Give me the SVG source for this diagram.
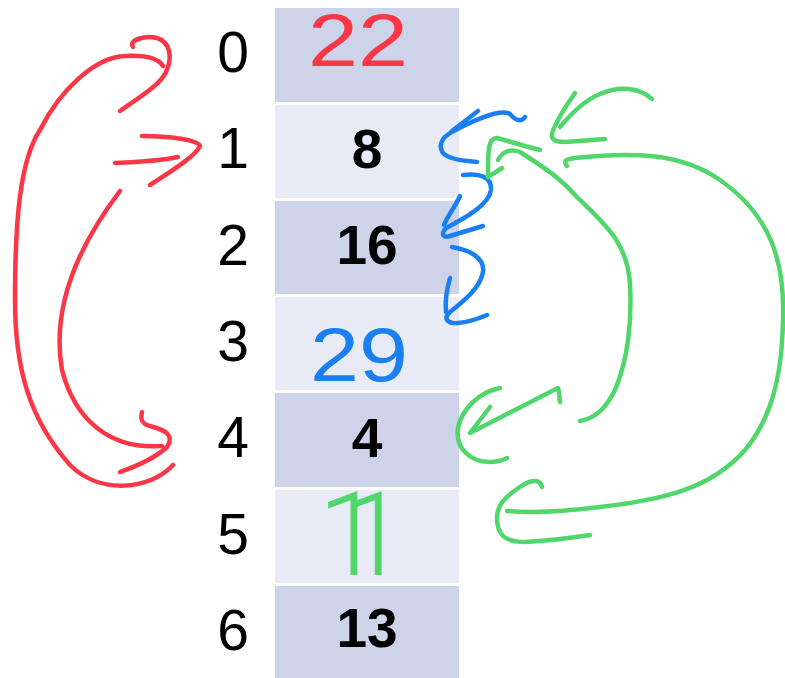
<svg xmlns="http://www.w3.org/2000/svg" width="785" height="678" viewBox="0 0 785 678">
<style>
.dark{fill:#cdd3e8}
.light{fill:#e8ebf5}
.idx{font-family:"Liberation Sans",Arial,sans-serif;font-size:57px;fill:#000;text-anchor:middle}
.val{font-family:"Liberation Sans",Arial,sans-serif;font-size:55px;font-weight:bold;fill:#000;text-anchor:middle}
.hand{font-family:"Liberation Sans",Arial,sans-serif;text-anchor:start}
.ink{fill:none;stroke-width:4.5;stroke-linecap:round;stroke-linejoin:round}
.red{stroke:#fb3647}
.blue{stroke:#1a7ff0}
.green{stroke:#50d66a}
</style>
<rect width="785" height="678" fill="#fff"/>
<g id="slot0"><rect class="dark" x="275" y="8" width="184" height="94"/><text class="idx" x="233" y="72">0</text><text class="hand" x="308" y="66" font-size="74" fill="#fb3647" textLength="100" lengthAdjust="spacingAndGlyphs">22</text></g>
<g id="slot1"><rect class="light" x="275" y="105" width="184" height="93"/><text class="idx" x="233" y="168">1</text><text class="val" x="367" y="168">8</text></g>
<g id="slot2"><rect class="dark" x="275" y="201" width="184" height="93"/><text class="idx" x="233" y="265">2</text><text class="val" x="367" y="264">16</text></g>
<g id="slot3"><rect class="light" x="275" y="297" width="184" height="93"/><text class="idx" x="233" y="361">3</text><text class="hand" x="310" y="381" font-size="76" fill="#1a7ff0" textLength="98" lengthAdjust="spacingAndGlyphs">29</text></g>
<g id="slot4"><rect class="dark" x="275" y="393" width="184" height="94"/><text class="idx" x="233" y="457">4</text><text class="val" x="367" y="457">4</text></g>
<g id="slot5"><rect class="light" x="275" y="490" width="184" height="93"/><text class="idx" x="233" y="554">5</text><text x="318" y="575" font-family="Roboto,'Noto Sans',sans-serif" font-weight="300" font-size="116" fill="#50d66a" letter-spacing="-40">11</text></g>
<g id="slot6"><rect class="dark" x="275" y="586" width="184" height="92"/><text class="idx" x="233" y="650">6</text><text class="val" x="367" y="647">13</text></g>
<g id="connectors">
<path class="ink red" d="M173,465 C150,490 100,495 70,465 C30,420 15,370 15,300 C15,220 20,160 40,130 C60,90 95,57 125,56 C145,55 158,58 163,66"/>
<path class="ink red" d="M120,111 C140,97 160,85 166,72 C173,57 170,42 157,38 C145,35 128,40 133,47"/>
<path class="ink red" d="M142,136 C170,136 198,140 200,146 C196,156 170,172 150,185"/>
<path class="ink red" d="M115,163 C140,162 160,161 178,157"/>
<path class="ink red" d="M120,191 C60,270 55,330 62,370 C75,420 110,450 162,446"/>
<path class="ink red" d="M142,412 C140,420 142,424 150,426 C165,430 175,435 167,447 C155,458 140,465 120,472"/>
<path class="ink blue" d="M525,117 C520,124 513,118 510,114 C500,108 470,122 450,133 C435,143 440,155 452,158 C460,161 470,161 477,162"/>
<path class="ink blue" d="M478,111 L452,131"/>
<path class="ink blue" d="M463,175 C480,173 492,177 491,190 C489,205 465,218 446,228 C440,235 444,238 450,236 L483,226"/>
<path class="ink blue" d="M460,196 C455,207 448,215 444,225"/>
<path class="ink blue" d="M452,247 C470,250 485,258 483,272 C480,288 465,300 450,312 C443,318 447,324 458,323 C470,322 480,318 487,315"/>
<path class="ink blue" d="M450,278 C446,292 445,302 446,312"/>
<path class="ink green" d="M652,99 C640,88 620,85 600,94 C585,100 570,115 560,127"/>
<path class="ink green" d="M575,93 C568,103 560,115 556,124 C548,138 552,142 565,142 L605,139"/>
<path class="ink green" d="M540,150 C520,145 505,140 497,138 C488,138 488,150 488,177 L502,168"/>
<path class="ink green" d="M498,160 C502,152 510,148 520,152 C545,168 560,178 575,195 C600,220 628,240 630,285 C632,320 628,360 615,390 C605,410 595,418 580,421"/>
<path class="ink green" d="M567,166 C563,161 566,159 575,158 C630,152 680,152 720,180 C770,215 785,260 783,320 C782,380 770,420 745,450 C710,490 660,500 600,507 C560,512 530,513 507,511"/>
<path class="ink green" d="M542,487 C540,478 530,480 520,487 C505,497 497,505 497,518 C497,535 505,542 525,542 C545,541 570,538 590,535"/>
<path class="ink green" d="M500,388 C480,392 462,408 458,428 C455,448 470,462 490,462 C497,462 503,460 507,458"/>
<path class="ink green" d="M490,407 L470,433 L558,388 C560,393 559,398 560,402"/>
</g>
</svg>
